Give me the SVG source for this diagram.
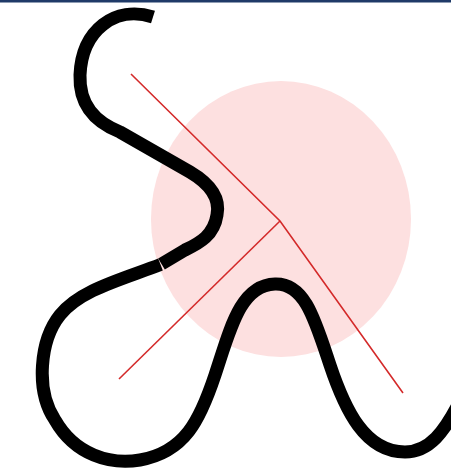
<svg xmlns="http://www.w3.org/2000/svg" width="451" height="473" viewBox="0 0 451 473">
<style>
.curve{fill:none;stroke:#000;stroke-width:13;stroke-linejoin:round}
.red{fill:none;stroke:#d42a2a;stroke-width:1.6}
</style>
<rect x="0" y="0" width="451" height="473" fill="#fff"/>
<rect x="0" y="0" width="451" height="2.5" fill="#1f3a68"/>
<g id="circle">
<ellipse cx="281" cy="219" rx="130" ry="138" fill="#fde0e0"/>
</g>
<g id="connectors">
<polyline class="red" points="131,74 280,221 403,393"/>
<line class="red" x1="280" y1="221" x2="119" y2="379"/>
</g>
<g id="curve">
<path class="curve" stroke-linecap="butt" d="M153,17 C115,5 82,30 80,75 C79,105 95,122 120,132 L190,172 C212,185 220,200 217,215 C214,235 200,243 185,250 L161.5,264"/>
<path class="curve" stroke-linecap="butt" d="M160.5,264.5 C120,280 80,290 60,315 C40,340 35,390 55,420 C75,455 110,465 140,460 C185,452 200,420 215,375 C230,330 240,285 275,284 C305,283 315,320 330,365 C345,410 365,452 405,452 C430,452 445,430 458,405"/>
</g>
</svg>
